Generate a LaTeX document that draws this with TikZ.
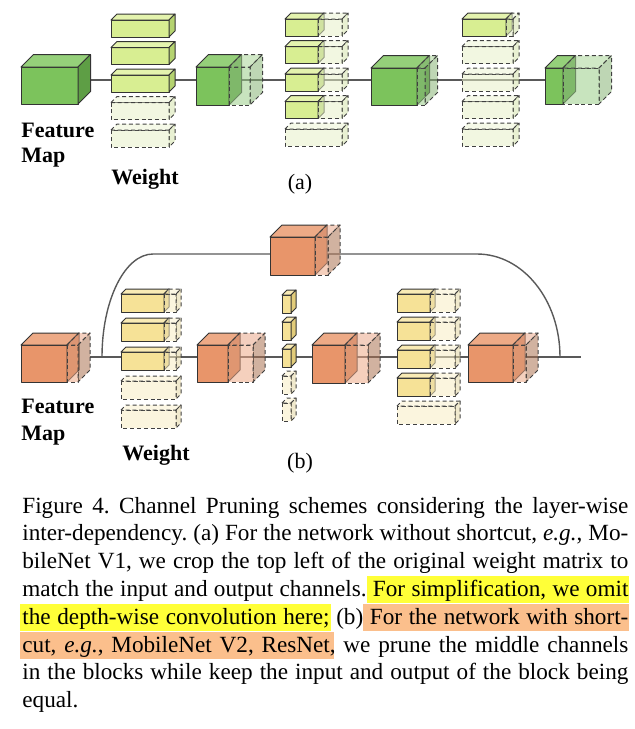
\documentclass[tikz,border=0pt]{standalone}
\usepackage{fontspec}
\setmainfont{Liberation Serif}
\frenchspacing

% green, panel (a)
\definecolor{gfmf}{HTML}{7CC35C}
\definecolor{gfmt}{HTML}{95D07A}
\definecolor{gfms}{HTML}{5E9E45}
\definecolor{gpff}{HTML}{9BCE89}
\definecolor{gpft}{HTML}{AAD597}
\definecolor{gpfs}{HTML}{89B577}
\definecolor{gwtf}{HTML}{D8EE92}
\definecolor{gwtt}{HTML}{E4F3AE}
\definecolor{gwts}{HTML}{B5D370}
\definecolor{gpwf}{HTML}{E7F0C8}
\definecolor{gpwt}{HTML}{EDF4D5}
\definecolor{gpws}{HTML}{D5E4AD}
% orange / yellow, panel (b)
\definecolor{ofmf}{HTML}{E8956A}
\definecolor{ofmt}{HTML}{EDAA86}
\definecolor{ofms}{HTML}{CF7F58}
\definecolor{opff}{HTML}{EDA987}
\definecolor{opft}{HTML}{EAA88A}
\definecolor{opfs}{HTML}{AC7252}
\definecolor{ywtf}{HTML}{F6E297}
\definecolor{ywtt}{HTML}{F9EBB5}
\definecolor{ywts}{HTML}{E2CC7A}
\definecolor{ypwf}{HTML}{F8EDC3}
\definecolor{ypwt}{HTML}{FAF1CE}
\definecolor{ypws}{HTML}{E4D7A4}
% caption marks
\definecolor{hlyel}{HTML}{FFFF38}
\definecolor{hlora}{HTML}{FBBF8C}

% style, x, y, width, height, depth, colour prefix
\newcommand{\cuboid}[7]{%
  \filldraw[#1,fill=#7f] (#2,#3) rectangle ++(#4,#5);
  \filldraw[#1,fill=#7t] (#2,#3) -- ++(#6,-#6) -- ++(#4,0) -- ++(-#6,#6) -- cycle;
  \filldraw[#1,fill=#7s] (#2+#4,#3) -- ++(#6,-#6) -- ++(0,#5) -- ++(-#6,#6) -- cycle;
}
\newcommand{\capfill}[1]{\makebox[303pt][s]{#1}}

\tikzset{
  solidbox/.style={draw=black!80,line width=0.5pt,line join=round},
  prunedbox/.style={draw=black!75,line width=0.5pt,line join=round,
    dash pattern=on 2pt off 1.4pt,fill opacity=0.55},
  wire/.style={draw=black!65,line width=0.7pt},
  lbl/.style={anchor=base west,inner sep=0pt,font=\bfseries\fontsize{11}{13}\selectfont},
  tag/.style={anchor=base,inner sep=0pt,font=\fontsize{11}{13}\selectfont},
  captext/.style={anchor=base west,inner sep=0pt,font=\fontsize{11.6}{13.9}\selectfont},
}

\begin{document}
\begin{tikzpicture}[x=0.5pt,y=-0.5pt]
  \useasboundingbox (0,0) rectangle (634,729);

  % (a) network without shortcut
  \coordinate (a-in) at (90,80);
  \coordinate (a-out) at (545,80);
  \draw[wire] (a-in) -- (a-out);

  \cuboid{solidbox}{21}{67}{57}{37}{12.5}{gfm}
  \cuboid{solidbox}{196}{67}{33}{38}{12.5}{gfm}
  \cuboid{prunedbox}{229}{67}{21}{38}{12.5}{gpf}
  \cuboid{solidbox}{371}{68}{46}{37}{12.5}{gfm}
  \cuboid{prunedbox}{417}{68}{8}{37}{12.5}{gpf}
  \cuboid{solidbox}{545}{68}{18}{36}{12.5}{gfm}
  \cuboid{prunedbox}{563}{68}{36}{36}{12.5}{gpf}

  \foreach \y in {20,47.5,75} {\cuboid{solidbox}{111}{\y}{58}{17}{6}{gwt}}
  \foreach \y in {102.5,130} {\cuboid{prunedbox}{111}{\y}{58}{17}{6}{gpw}}

  \foreach \y in {19,46.5,74,101.5} {
    \cuboid{solidbox}{285}{\y}{33}{17}{6}{gwt}
    \cuboid{prunedbox}{318}{\y}{24}{17}{6}{gpw}
  }
  \cuboid{prunedbox}{285}{129}{57}{17}{6}{gpw}

  \cuboid{solidbox}{462}{19}{44}{17}{6}{gwt}
  \cuboid{prunedbox}{506}{19}{7}{17}{6}{gpw}
  \foreach \y in {46.5,74,101.5,129} {\cuboid{prunedbox}{462}{\y}{51}{17}{6}{gpw}}

  \node[lbl] (feat-a) at (21,137) {Feature};
  \node[lbl] (map-a) at (21,162) {Map};
  \node[lbl] (wt-a) at (111,184) {Weight};
  \node[tag] (tag-a) at (300,189) {(a)};

  % (b) network with shortcut
  \coordinate (b-in) at (90,357);
  \coordinate (b-split) at (102,357);
  \coordinate (b-join) at (560,357);
  \coordinate (b-out) at (581,357);
  \draw[wire] (b-in) -- (b-out);
  \draw[wire] (b-split) .. controls (102,300) and (125,254) .. (153,254)
    -- (477,254) .. controls (523,254) and (560,300) .. (b-join);

  \cuboid{solidbox}{270}{237}{45}{38}{12}{ofm}
  \cuboid{prunedbox}{315}{237}{13}{38}{12}{opf}

  \cuboid{solidbox}{21}{345}{46}{37}{12}{ofm}
  \cuboid{prunedbox}{67}{345}{11}{37}{12}{opf}
  \cuboid{solidbox}{197}{345}{31}{37}{12}{ofm}
  \cuboid{prunedbox}{228}{345}{25}{37}{12}{opf}
  \cuboid{solidbox}{312}{345}{33}{38}{12}{ofm}
  \cuboid{prunedbox}{345}{345}{23}{38}{12}{opf}
  \cuboid{solidbox}{468}{345}{45}{37}{12}{ofm}
  \cuboid{prunedbox}{513}{345}{13}{37}{12}{opf}

  \foreach \y in {294,323,352} {
    \cuboid{solidbox}{121}{\y}{43}{18}{5}{ywt}
    \cuboid{prunedbox}{164}{\y}{12}{18}{5}{ypw}
  }
  \foreach \y in {381,410} {\cuboid{prunedbox}{121}{\y}{55}{18}{5}{ypw}}

  \foreach \y in {295,322,349} {\cuboid{solidbox}{282}{\y}{9}{18}{5}{ywt}}
  \foreach \y in {376,403} {\cuboid{prunedbox}{282}{\y}{9}{18}{5}{ypw}}

  \foreach \y in {294,322,350,378} {
    \cuboid{solidbox}{397}{\y}{33}{18}{5}{ywt}
    \cuboid{prunedbox}{430}{\y}{25}{18}{5}{ypw}
  }
  \cuboid{prunedbox}{397}{406}{58}{18}{5}{ypw}

  \node[lbl] (feat-b) at (21,413) {Feature};
  \node[lbl] (map-b) at (21,440) {Map};
  \node[lbl] (wt-b) at (122,460) {Weight};
  \node[tag] (tag-b) at (300,468) {(b)};

  % caption
  \fill[hlyel] (367,576) rectangle (629,603);
  \fill[hlyel] (20,604) rectangle (331,631);
  \fill[hlora] (363,604) rectangle (629,631);
  \fill[hlora] (20,632) rectangle (334,659);

  \node[captext] (cap1) at (22,513) {\capfill{Figure 4. Channel Pruning schemes considering the layer-wise}};
  \node[captext] (cap2) at (22,540.8) {\capfill{inter-dependency. (a) For the network without shortcut, \textit{e.g.}, Mo-}};
  \node[captext] (cap3) at (22,568.6) {\capfill{bileNet V1, we crop the top left of the original weight matrix to}};
  \node[captext] (cap4) at (22,596.4) {\capfill{match the input and output channels. For simplification, we omit}};
  \node[captext] (cap5) at (22,624.2) {\capfill{the depth-wise convolution here; (b) For the network with short-}};
  \node[captext] (cap6) at (22,652) {\capfill{cut, \textit{e.g.}, MobileNet V2, ResNet, we prune the middle channels}};
  \node[captext] (cap7) at (22,679.8) {\capfill{in the blocks while keep the input and output of the block being}};
  \node[captext] (cap8) at (22,707.6) {equal.};
\end{tikzpicture}
\end{document}
